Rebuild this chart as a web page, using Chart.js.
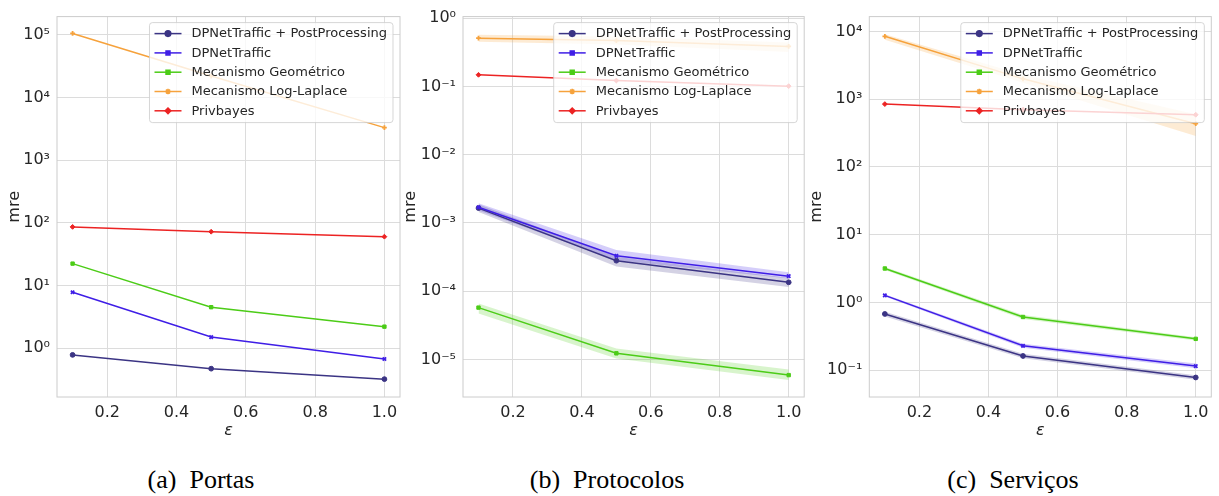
<!DOCTYPE html>
<html>
<head>
<meta charset="utf-8">
<script src="https://cdn.jsdelivr.net/npm/chart.js@4/dist/chart.umd.min.js"></script>
<style>
  body { margin: 0; background: #fff; width: 1219px; height: 496px; position: relative; overflow: hidden; }
  .panel { position: absolute; top: 0; }
  .cap { position: absolute; top: 465px; width: 300px; text-align: center;
         font-family: "Liberation Serif", serif; font-size: 26px; line-height: 30px; color: #000; }
</style>
</head>
<body>
<div class="panel" style="left:0px"><canvas id="c1" width="406" height="440"></canvas></div>
<div class="panel" style="left:400px"><canvas id="c2" width="410" height="440"></canvas></div>
<div class="panel" style="left:806px"><canvas id="c3" width="413" height="440"></canvas></div>
<div class="cap" style="left:51px">(a)&nbsp; Portas</div>
<div class="cap" style="left:457px">(b)&nbsp; Protocolos</div>
<div class="cap" style="left:863px">(c)&nbsp; Serviços</div>
<script>
'use strict';

// eixo x
var eps = [0.1, 0.5, 1.0];
var xTicks = [0.2, 0.4, 0.6, 0.8, 1.0];

var names = ['DPNetTraffic + PostProcessing', 'DPNetTraffic', 'Mecanismo Geométrico', 'Mecanismo Log-Laplace', 'Privbayes'];
var colors = ['#3b3484', '#3f1ee6', '#4ccc17', '#f6a23c', '#ec2323'];
var markers = ['circle', 'crossRot', 'rect', 'cross', 'rectRot'];
var legendMarkers = ['circle', 'rect', 'rect', 'star', 'rectRot'];

// (a) Portas
var portasPP = [0.78, 0.47, 0.32];
var portasDP = [7.8, 1.5, 0.67];
var portasGeo = [22.3, 4.5, 2.2];
var portasLL = [105000, 22000, 3300];
var portasPB = [86, 72, 60];
var portasTicks = [1, 10, 100, 1000, 10000, 100000];

// (b) Protocolos
var protoPP = [0.00165, 0.00028, 0.000135];
var protoPPLo = [0.00145, 0.00023, 0.000115];
var protoPPHi = [0.00188, 0.00032, 0.000156];
var protoDP = [0.0017, 0.00033, 0.000166];
var protoDPLo = [0.00152, 0.000285, 0.000153];
var protoDPHi = [0.00195, 0.0004, 0.00019];
var protoGeo = [0.0000575, 0.0000123, 0.0000059];
var protoGeoLo = [0.000047, 0.0000103, 0.000005];
var protoGeoHi = [0.000066, 0.0000145, 0.0000071];
var protoLL = [0.51, 0.47, 0.385];
var protoLLLo = [0.45, 0.41, 0.32];
var protoLLHi = [0.57, 0.54, 0.44];
var protoPB = [0.148, 0.122, 0.101];
var protoTicks = [0.00001, 0.0001, 0.001, 0.01, 0.1, 1];

// (c) Serviços
var servPP = [0.676, 0.162, 0.078];
var servPPLo = [0.62, 0.15, 0.072];
var servPPHi = [0.73, 0.175, 0.084];
var servDP = [1.27, 0.229, 0.115];
var servDPLo = [1.22, 0.215, 0.107];
var servDPHi = [1.32, 0.245, 0.125];
var servGeo = [3.17, 0.61, 0.29];
var servGeoLo = [3.0, 0.57, 0.275];
var servGeoHi = [3.35, 0.65, 0.305];
var servLL = [8500, 2000, 435];
var servLLLo = [7550, 1750, 287];
var servLLHi = [9100, 2300, 600];
var servPB = [848, 700, 590];
var servTicks = [0.1, 1, 10, 100, 1000, 10000];

var SUP = { '0': '⁰', '1': '¹', '2': '²', '3': '³', '4': '⁴', '5': '⁵', '6': '⁶', '7': '⁷', '8': '⁸', '9': '⁹', '-': '⁻' };
function powLabel(v) {
    var e = String(Math.round(Math.log10(v)));
    return '10' + e.split('').map(function (c) { return SUP[c]; }).join('');
}

function hexA(hex, a) {
    var n = parseInt(hex.slice(1), 16);
    return 'rgba(' + (n >> 16) + ',' + ((n >> 8) & 255) + ',' + (n & 255) + ',' + a + ')';
}

// moldura do grafico (spines)
var framePlugin = {
    id: 'frame',
    beforeDatasetsDraw: function (chart) {
        var a = chart.chartArea, ctx = chart.ctx;
        ctx.save();
        ctx.strokeStyle = '#cccccc';
        ctx.lineWidth = 1;
        ctx.strokeRect(a.left, a.top, a.right - a.left, a.bottom - a.top);
        ctx.restore();
    }
};

// legenda dentro da area, estilo matplotlib
var boxLegend = {
    id: 'boxLegend',
    afterDatasetsDraw: function (chart) {
        var a = chart.chartArea, ctx = chart.ctx;
        var items = chart.data.datasets.filter(function (d) { return !d.isBand; });
        ctx.save();
        ctx.font = '13px "DejaVu Sans"';
        var tw = 0;
        items.forEach(function (d) { tw = Math.max(tw, ctx.measureText(d.label).width); });
        var w = 42 + tw + 6, h = 100;
        var x0 = a.right - 7 - w, y0 = a.top + 6;
        ctx.beginPath();
        ctx.roundRect(x0, y0, w, h, 3);
        ctx.fillStyle = 'rgba(255,255,255,0.8)';
        ctx.fill();
        ctx.strokeStyle = 'rgba(204,204,204,0.8)';
        ctx.lineWidth = 1;
        ctx.stroke();
        items.forEach(function (d, i) {
            var y = y0 + 11 + i * 19.3;
            ctx.strokeStyle = d.borderColor;
            ctx.lineWidth = 1.5;
            ctx.beginPath();
            ctx.moveTo(x0 + 5, y);
            ctx.lineTo(x0 + 32, y);
            ctx.stroke();
            ctx.fillStyle = d.borderColor;
            Chart.helpers.drawPoint(ctx, { pointStyle: legendMarkers[i], radius: 2.8, rotation: 0, borderWidth: 1 }, x0 + 18.5, y);
            ctx.fillStyle = '#262626';
            ctx.textBaseline = 'middle';
            ctx.fillText(d.label, x0 + 42, y + 0.5);
        });
        ctx.restore();
    }
};

function bandPair(lo, hi, color) {
    return [
        { label: '', isBand: true, data: lo, borderWidth: 0, pointRadius: 0, fill: false, order: 20 },
        { label: '', isBand: true, data: hi, borderWidth: 0, pointRadius: 0, fill: '-1',
          backgroundColor: hexA(color, 0.22), order: 20 }
    ];
}

function makeChart(id, series, bands, yMin, yMax, yTicks, cfg) {
    var datasets = [];
    bands.forEach(function (b) {
        datasets = datasets.concat(bandPair(b.lo, b.hi, colors[b.k]));
    });
    series.forEach(function (s, i) {
        datasets.push({
            label: names[i],
            data: s,
            borderColor: colors[i],
            backgroundColor: colors[i],
            borderWidth: 1.5,
            pointStyle: markers[i],
            pointRadius: 2.4,
            pointBorderWidth: (markers[i] === 'crossRot' || markers[i] === 'cross') ? 1.8 : 1,
            fill: false,
            order: 10 - i
        });
    });
    return new Chart(document.getElementById(id), {
        type: 'line',
        data: { labels: eps, datasets: datasets },
        plugins: [framePlugin, boxLegend],
        options: {
            responsive: false,
            animation: false,
            devicePixelRatio: 1,
            layout: { padding: { left: 0, right: cfg.right, top: cfg.top, bottom: 0 } },
            plugins: { legend: { display: false }, tooltip: { enabled: false } },
            scales: {
                x: {
                    type: 'linear',
                    min: 0.055,
                    max: 1.045,
                    afterBuildTicks: function (scale) {
                        scale.ticks = xTicks.map(function (v) { return { value: v }; });
                    },
                    afterFit: function (scale) { scale.height = 43; },
                    grid: { color: '#dcdcdc', lineWidth: 1, drawTicks: false },
                    border: { display: false },
                    ticks: {
                        font: { family: 'DejaVu Sans', size: 16 },
                        color: '#262626',
                        padding: 6,
                        maxRotation: 0,
                        callback: function (v) { return v.toFixed(1); }
                    },
                    title: {
                        display: true, text: 'ε', color: '#262626',
                        font: { family: 'DejaVu Sans', size: 16, style: 'italic' },
                        padding: { top: 0, bottom: 0 }
                    }
                },
                y: {
                    type: 'logarithmic',
                    min: yMin,
                    max: yMax,
                    afterBuildTicks: function (scale) {
                        scale.ticks = yTicks.map(function (v) { return { value: v, major: true }; });
                    },
                    afterFit: function (scale) { scale.width = cfg.left; },
                    grid: { color: '#dcdcdc', lineWidth: 1, drawTicks: false },
                    border: { display: false },
                    ticks: {
                        font: { family: 'DejaVu Sans', size: 16 },
                        color: '#262626',
                        padding: 7,
                        autoSkip: false,
                        callback: function (v) { return powLabel(v); }
                    },
                    title: {
                        display: true, text: 'mre', color: '#262626',
                        font: { family: 'DejaVu Sans', size: 16 },
                        padding: { top: cfg.titlePad, bottom: 0 }
                    }
                }
            }
        }
    });
}

makeChart('c1', [portasPP, portasDP, portasGeo, portasLL, portasPB], [],
    Math.pow(10, -0.78), Math.pow(10, 5.29), portasTicks,
    { left: 57, right: 6, top: 15, titlePad: 5 });

makeChart('c2', [protoPP, protoDP, protoGeo, protoLL, protoPB], [
        { k: 3, lo: protoLLLo, hi: protoLLHi },
        { k: 2, lo: protoGeoLo, hi: protoGeoHi },
        { k: 0, lo: protoPPLo, hi: protoPPHi },
        { k: 1, lo: protoDPLo, hi: protoDPHi }
    ],
    Math.pow(10, -5.55), Math.pow(10, 0.023), protoTicks,
    { left: 63, right: 5.3, top: 15.7, titlePad: 1.5 });

makeChart('c3', [servPP, servDP, servGeo, servLL, servPB], [
        { k: 3, lo: servLLLo, hi: servLLHi },
        { k: 2, lo: servGeoLo, hi: servGeoHi },
        { k: 0, lo: servPPLo, hi: servPPHi },
        { k: 1, lo: servDPLo, hi: servDPHi }
    ],
    Math.pow(10, -1.396), Math.pow(10, 4.22), servTicks,
    { left: 63.3, right: 7.7, top: 15, titlePad: 1.5 });
</script>
</body>
</html>
